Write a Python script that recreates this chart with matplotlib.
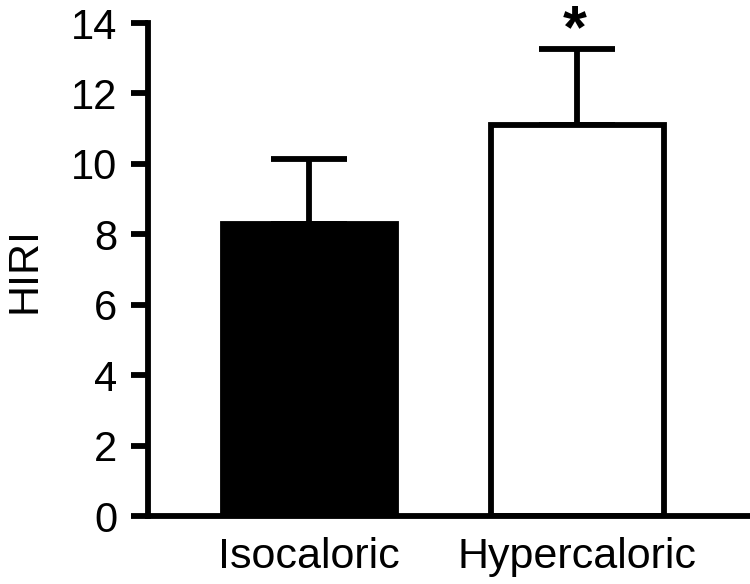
import numpy as np
import matplotlib.pyplot as plt

plt.rcParams['font.family'] = ['Liberation Sans', 'DejaVu Sans']

# group means and upper SEM
groups = ['Isocaloric', 'Hypercaloric']
means = [8.3, 11.1]
sems = [1.85, 2.15]
face = ['black', 'white']

fig = plt.figure(figsize=(7.5, 5.84), dpi=100)
ax = fig.add_axes([0.197, 0.1164, 0.8, 0.8442])

lw = 4.2
x = np.arange(len(groups))
ax.errorbar(x, means, yerr=[[0] * len(sems), sems], fmt='none', ecolor='black',
            elinewidth=lw, capsize=27.5, capthick=lw, zorder=1)
ax.bar(x, means, width=0.645, color=face, edgecolor='black', linewidth=lw, zorder=2)

# significance mark
ax.text(x[1] - 0.01, 13.32, '*', ha='center', va='baseline',
        fontsize=44, fontweight='bold', clip_on=False)

ax.set_xlim(-0.603, 1.636)
ax.set_ylim(0, 14)
ax.set_yticks(range(0, 15, 2))
ax.set_xticks(x)
ax.set_xticklabels(groups, fontsize=31)
ax.tick_params(axis='y', labelsize=30, width=lw, length=12, pad=10)
ax.tick_params(axis='x', length=0, pad=15)
ax.set_ylabel('HIRI', fontsize=31)
ax.yaxis.set_label_coords(-0.172, 0.5)

for s in ['top', 'right']:
    ax.spines[s].set_visible(False)
for s in ['left', 'bottom']:
    ax.spines[s].set_linewidth(lw)

fig.savefig('out.png', dpi=100)
